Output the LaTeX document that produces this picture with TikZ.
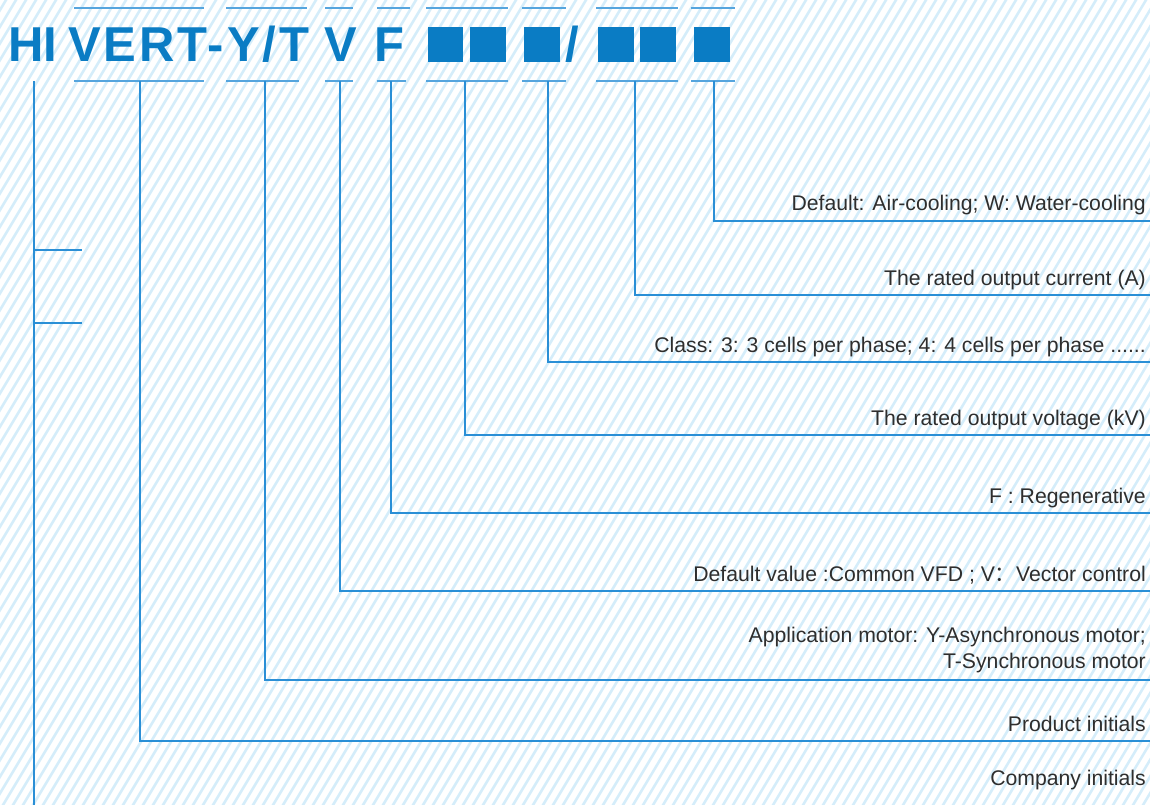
\documentclass[tikz,border=0pt]{standalone}
\usepackage{fontspec}
\setmainfont{Liberation Sans}
\newfontfamily\cjk{Noto Sans CJK SC}
\definecolor{stripe}{HTML}{D5EDFA}
\definecolor{lineblue}{HTML}{2A8FD6}
\definecolor{titleblue}{HTML}{0A7CC4}
\definecolor{txt}{HTML}{2E2E2E}
\tikzset{
  conn/.style={draw=lineblue, line width=1.2pt},
  bar/.style={draw=lineblue!80, line width=1.2pt},
  desc/.style={anchor=base east, inner sep=0pt, text=txt, font=\fontsize{21.2}{26}\selectfont, align=right},
  ttl/.style={anchor=base west, inner sep=0pt, text=titleblue, font=\fontsize{49}{49}\selectfont\bfseries},
  sq/.style={fill=titleblue, draw=none}
}
\begin{document}
\begin{tikzpicture}[x=1pt,y=-1pt]
\useasboundingbox (0,0) rectangle (1150,805);
\begin{scope}
\clip (0,0) rectangle (1150,805);
\foreach \i in {-60,...,120} {
  \draw[stripe, line width=2.6pt] (\i*10, 810) -- (\i*10+489, -5);
}
\end{scope}
% title pieces
\node[ttl] (hi) at (8,62) {HI};
\node[ttl] (vert) at (68,62) {\addfontfeature{LetterSpace=6}VERT-Y/T};
\node[ttl] (v) at (324,62) {V};
\node[ttl] (f) at (374,62) {F};
\fill[sq] (428,27) rectangle (463,62);
\fill[sq] (470,27) rectangle (506,62);
\fill[sq] (524,27) rectangle (560,62);
\node[ttl] (sl) at (565,62) {/};
\fill[sq] (598,27) rectangle (634,62);
\fill[sq] (640,27) rectangle (676,62);
\fill[sq] (694,27) rectangle (730,62);
% top and bottom bars
\foreach \a/\b in {74/204, 226/307, 325/353, 377/410, 426/508, 522/566, 596/678, 691/735} {
  \draw[bar] (\a,8) -- (\b,8);
}
\foreach \a/\b in {74/204, 226/299, 325/353, 377/406, 426/508, 522/566, 596/678, 691/735} {
  \draw[bar] (\a,81) -- (\b,81);
}
% coordinates
\coordinate (c0) at (34,81);
\coordinate (c1) at (140,81);
\coordinate (c2) at (265,81);
\coordinate (c3) at (340,81);
\coordinate (c4) at (391,81);
\coordinate (c5) at (465,81);
\coordinate (c6) at (548,81);
\coordinate (c7) at (635,81);
\coordinate (c8) at (714,81);
\coordinate (e1) at (1150,741);
\coordinate (e2) at (1150,680);
\coordinate (e3) at (1150,591);
\coordinate (e4) at (1150,513);
\coordinate (e5) at (1150,435);
\coordinate (e6) at (1150,362);
\coordinate (e7) at (1150,295);
\coordinate (e8) at (1150,221);
\coordinate (e0) at (34,805);
\coordinate (s1) at (82,250);
\coordinate (s2) at (82,323);
% connectors
\draw[conn] (c0) -- (e0);
\draw[conn] (c0 |- s1) -- (s1);
\draw[conn] (c0 |- s2) -- (s2);
\foreach \k in {1,...,8} {
  \draw[conn] (c\k) |- (e\k);
}
% descriptions
\node[desc] (t8) at (1146,211) {Default: Air-cooling; W: Water-cooling};
\node[desc] (t7) at (1146,285) {The rated output current (A)};
\node[desc] (t6) at (1146,352) {Class: 3: 3 cells per phase; 4: 4 cells per phase ......};
\node[desc] (t5) at (1146,425) {The rated output voltage (kV)};
\node[desc] (t4) at (1146,503) {F : Regenerative};
\node[desc] (t3) at (1146,581) {Default value :Common VFD ; V{\cjk ：}Vector control};
\node[desc] (t2a) at (1146,642) {Application motor: Y-Asynchronous motor;};
\node[desc] (t2b) at (1146,668) {T-Synchronous motor};
\node[desc] (t1) at (1146,731) {Product initials};
\node[desc] (t0) at (1146,785) {Company initials};
\end{tikzpicture}
\end{document}
